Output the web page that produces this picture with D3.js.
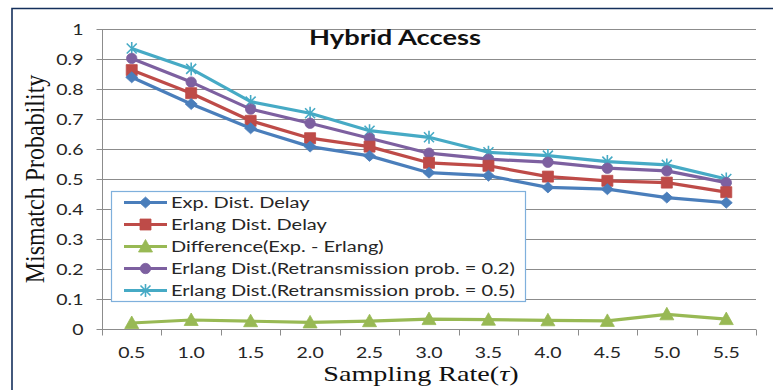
<!DOCTYPE html>
<html>
<head>
<meta charset="utf-8">
<script src="https://cdn.jsdelivr.net/npm/d3@7"></script>
<style>
  html, body { margin: 0; padding: 0; background: #fff; }
  svg { display: block; }
</style>
</head>
<body>
<svg id="chart" width="773" height="390"></svg>
<script>
// Sampling rates on the x axis
const categories = ["0.5", "1.0", "1.5", "2.0", "2.5", "3.0", "3.5", "4.0", "4.5", "5.0", "5.5"];

// Mismatch probability per sampling rate
const expDelay     = [0.839, 0.750, 0.669, 0.608, 0.577, 0.521, 0.511, 0.472, 0.466, 0.438, 0.421];
const erlangDelay  = [0.863, 0.786, 0.694, 0.636, 0.608, 0.554, 0.544, 0.508, 0.494, 0.488, 0.456];
const difference   = [0.020, 0.030, 0.026, 0.022, 0.026, 0.033, 0.031, 0.029, 0.027, 0.049, 0.033];
const erlangRetx02 = [0.902, 0.823, 0.733, 0.686, 0.636, 0.586, 0.566, 0.556, 0.536, 0.527, 0.488];
const erlangRetx05 = [0.935, 0.867, 0.758, 0.719, 0.661, 0.639, 0.589, 0.578, 0.558, 0.547, 0.500];

const seriesNames = [
  "Exp. Dist. Delay",
  "Erlang Dist. Delay",
  "Difference(Exp. - Erlang)",
  "Erlang Dist.(Retransmission prob. = 0.2)",
  "Erlang Dist.(Retransmission prob. = 0.5)"
];

const yTicks = [0, 0.1, 0.2, 0.3, 0.4, 0.5, 0.6, 0.7, 0.8, 0.9, 1];
const yTickLabels = ["0", "0.1", "0.2", "0.3", "0.4", "0.5", "0.6", "0.7", "0.8", "0.9", "1"];

const chartTitle = "Hybrid Access";
const xTitle = "Sampling Rate";
const xTitleSymbol = "\u03C4";
const yTitle = "Mismatch Probability";

// ---- styling ----
const colors  = ["#4a7ebb", "#be4b48", "#98b954", "#7d60a0", "#46aac5"];
const markers = ["diamond", "square", "triangle", "circle", "star"];
const sansFont  = "Lato, 'Open Sans', sans-serif";
const serifFont = "'Liberation Serif', 'DejaVu Serif', serif";
const stretch = 1.3;           // horizontal stretch of the sans text
const legendStretch = 1.335;
const textColor = "#262626";
const gridColor = "#8c8c8c";

const svg = d3.select("#chart");

// outer frame
svg.append("path")
  .attr("d", "M12,392 V8.5 H775")
  .attr("fill", "none")
  .attr("stroke", "#14305c")
  .attr("stroke-width", 1.6);

const plot = { left: 102, right: 756, top: 29, bottom: 329 };

const x = d3.scaleBand().domain(categories).range([plot.left, plot.right]).padding(0);
const y = d3.scaleLinear().domain([0, 1]).range([plot.bottom, plot.top]);
const cx = c => x(c) + x.bandwidth() / 2;

// horizontal gridlines
svg.append("g").selectAll("line")
  .data(yTicks.filter(t => t > 0))
  .join("line")
  .attr("x1", plot.left).attr("x2", plot.right)
  .attr("y1", d => Math.round(y(d)) + 0.5).attr("y2", d => Math.round(y(d)) + 0.5)
  .attr("stroke", gridColor).attr("stroke-width", 1);

// y axis
const yAxis = d3.axisLeft(y)
  .tickValues(yTicks)
  .tickFormat((d, i) => yTickLabels[i])
  .tickSize(6)
  .tickPadding(13);
const gy = svg.append("g")
  .attr("transform", `translate(${plot.left + 0.5},0)`)
  .call(yAxis);
gy.select(".domain").attr("stroke", gridColor).attr("d", `M0,${plot.top}V${plot.bottom}`);
gy.selectAll(".tick line").attr("stroke", gridColor);
gy.selectAll(".tick").attr("transform", d => `translate(0,${Math.round(y(d)) + 0.5})`);
gy.selectAll(".tick text")
  .attr("font-family", sansFont).attr("font-size", 15).attr("fill", textColor)
  .attr("transform", `translate(-19,0) scale(${stretch},1)`)
  .attr("x", 0).attr("dy", "0.35em");

// x axis: ticks on category boundaries
const gx = svg.append("g").attr("transform", `translate(0,${plot.bottom + 0.5})`);
gx.append("line")
  .attr("x1", plot.left).attr("x2", plot.right)
  .attr("stroke", gridColor);
gx.selectAll(".bound")
  .data(categories.concat(["end"]))
  .join("line")
  .attr("class", "bound")
  .attr("x1", (d, i) => Math.round(plot.left + i * x.bandwidth()) + 0.5)
  .attr("x2", (d, i) => Math.round(plot.left + i * x.bandwidth()) + 0.5)
  .attr("y1", 0).attr("y2", 6)
  .attr("stroke", gridColor);
gx.selectAll(".lab")
  .data(categories)
  .join("text")
  .attr("class", "lab")
  .attr("transform", d => `translate(${cx(d)},28.5) scale(${stretch},1)`)
  .attr("text-anchor", "middle")
  .attr("font-family", sansFont).attr("font-size", 15).attr("fill", textColor)
  .text(d => d);

// titles
svg.append("text")
  .attr("transform", `translate(395,45) scale(1.3,1)`)
  .attr("text-anchor", "middle")
  .attr("font-family", sansFont).attr("font-weight", "bold").attr("font-size", 21)
  .attr("fill", "#111")
  .text(chartTitle);

const xt = svg.append("text")
  .attr("transform", `translate(421,381) scale(1.28,1)`)
  .attr("text-anchor", "middle")
  .attr("font-family", serifFont).attr("font-size", 22).attr("fill", "#111");
xt.append("tspan").text(xTitle + "(");
xt.append("tspan").attr("font-style", "italic").text(xTitleSymbol);
xt.append("tspan").text(")");

svg.append("text")
  .attr("transform", `translate(44,179) scale(1.15,1) rotate(-90)`)
  .attr("text-anchor", "middle")
  .attr("font-family", serifFont).attr("font-size", 24).attr("fill", "#111")
  .text(yTitle);

// marker path generator, centred on 0,0
function markerPath(type) {
  switch (type) {
    case "diamond":  return "M0,-5.5L6,0L0,5.5L-6,0Z";
    case "square":   return "M-5.5,-5.5H5.5V5.5H-5.5Z";
    case "triangle": return "M0,-7L7,5.5H-7Z";
    case "circle":   return d3.symbol(d3.symbolCircle, 85)();
    case "star":     return "M-5,-5L5,5M5,-5L-5,5M0,-6.5V6.5";
  }
}

function drawMarker(g, type, color) {
  const p = g.append("path").attr("d", markerPath(type));
  if (type === "star") {
    p.attr("fill", "none").attr("stroke", color).attr("stroke-width", 1.6);
  } else {
    p.attr("fill", color).attr("stroke", color).attr("stroke-width", 0.8);
  }
}

const allSeries = [expDelay, erlangDelay, difference, erlangRetx02, erlangRetx05];
const line = d3.line().x((d, i) => cx(categories[i])).y(d => y(d));

// series drawn back to front so the first series sits on top
const drawOrder = [2, 4, 3, 1, 0];
drawOrder.forEach(si => {
  const vals = allSeries[si];
  const g = svg.append("g");
  g.append("path")
    .attr("d", line(vals))
    .attr("fill", "none")
    .attr("stroke", colors[si])
    .attr("stroke-width", 3.2)
    .attr("stroke-linejoin", "round");
  vals.forEach((v, i) => {
    const m = g.append("g").attr("transform", `translate(${cx(categories[i])},${y(v)})`);
    drawMarker(m, markers[si], colors[si]);
  });
});

// legend
const legend = svg.append("g").attr("transform", "translate(111,191)");
legend.append("rect")
  .attr("x", 0.5).attr("y", 0.5)
  .attr("width", 414).attr("height", 110)
  .attr("fill", "#fff")
  .attr("stroke", "#7fb0dc").attr("stroke-width", 1.2);

seriesNames.forEach((name, i) => {
  const row = legend.append("g").attr("transform", `translate(0,${11.5 + i * 22})`);
  row.append("line")
    .attr("x1", 13).attr("x2", 56)
    .attr("stroke", colors[i]).attr("stroke-width", 3.2);
  const m = row.append("g").attr("transform", "translate(34.5,0)");
  drawMarker(m, markers[i], colors[i]);
  row.append("text")
    .attr("transform", `translate(60,0) scale(${legendStretch},1)`)
    .attr("dy", "0.36em")
    .attr("font-family", sansFont).attr("font-size", 15).attr("fill", textColor)
    .text(name);
});
</script>
</body>
</html>
